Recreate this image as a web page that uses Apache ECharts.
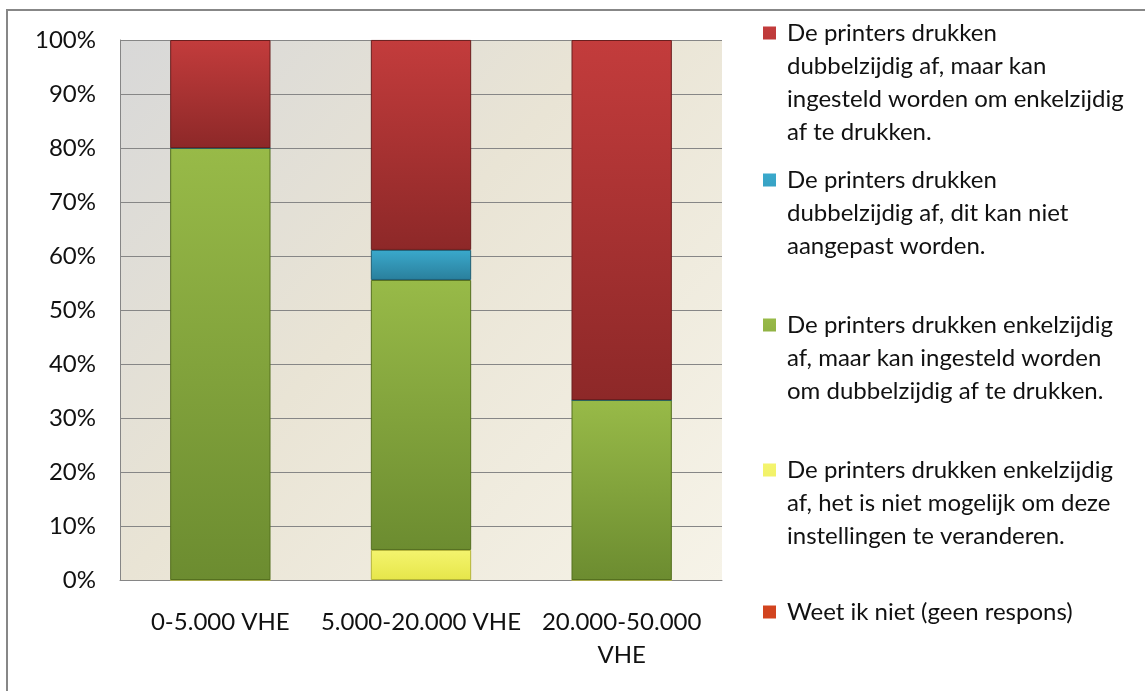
<!DOCTYPE html>
<html>
<head>
<meta charset="utf-8">
<script src="https://cdn.jsdelivr.net/npm/echarts@6/dist/echarts.min.js"></script>
<style>
  html, body { margin: 0; padding: 0; background: #fff; }
  #chart { width: 1145px; height: 691px; }
  .frame {
    position: absolute; left: 6px; top: 9px; width: 1200px; height: 800px;
    border-left: 2px solid #878787; border-top: 2px solid #878787;
    pointer-events: none;
  }
</style>
</head>
<body>
<div id="chart"></div>
<div class="frame"></div>
<script>
const categories = ['0-5.000 VHE', '5.000-20.000 VHE', '20.000-50.000 VHE']

// legend text, with line breaks as in the picture
const nameRedDouble = 'De printers drukken\ndubbelzijdig af, maar kan\ningesteld worden om enkelzijdig\naf te drukken.'
const nameBlueDouble = 'De printers drukken\ndubbelzijdig af, dit kan niet\naangepast worden.'
const nameGreenSingle = 'De printers drukken enkelzijdig\naf, maar kan ingesteld worden\nom dubbelzijdig af te drukken.'
const nameYellowSingle = 'De printers drukken enkelzijdig\naf, het is niet mogelijk om deze\ninstellingen te veranderen.'
const nameUnknown = 'Weet ik niet (geen respons)'

// percentages per category
const unknownValues = [0, 0, 0]
const yellowValues = [0, 5.56, 0]
const greenValues = [80, 50, 33.33]
const blueValues = [0, 5.56, 0]
const redValues = [20, 38.89, 66.67]

const font = 'Lato'
const lh = 33

function vgrad(top, bottom) {
  return new echarts.graphic.LinearGradient(0, 0, 0, 1, [
    { offset: 0, color: top },
    { offset: 1, color: bottom },
  ])
}

// one legend per entry; the icon is a tall path with the square at its top,
// so the square sits next to the first text line (text is centred on the icon)
function legendFor(name, lines, firstLineY) {
  const h = 13 + (lines - 1) * lh
  const icon = lines > 1
    ? 'path://M0,0L13,0L13,13L0,13Z M6,' + (h - 0.01) + 'L6.01,' + (h - 0.01) + 'L6.01,' + h + 'Z'
    : 'rect'
  return {
    data: [{ name: name, icon: icon }],
    left: 763,
    top: firstLineY - lh / 2,
    orient: 'vertical',
    padding: 0,
    itemWidth: 13,
    itemHeight: h,
    selectedMode: false,
    itemStyle: { borderWidth: 0 },
    textStyle: {
      fontFamily: font,
      fontSize: 24,
      color: '#111',
      lineHeight: lh,
      padding: [0, 0, 0, 6],
    },
  }
}

function barSeries(name, values, fill, border, legendColor) {
  return {
    name: name,
    type: 'bar',
    stack: 'total',
    barWidth: '50%',
    data: values,
    color: legendColor,
    itemStyle: {
      color: fill,
      borderColor: border,
      borderWidth: 1,
    },
  }
}

const chart = echarts.init(document.getElementById('chart'))
chart.setOption({
  animation: false,
  backgroundColor: '#fff',
  grid: {
    left: 120,
    top: 40,
    right: 423,
    bottom: 111,
    show: true,
    borderWidth: 0,
    backgroundColor: new echarts.graphic.LinearGradient(0, 0, 1, 1, [
      { offset: 0, color: '#d8d8d8' },
      { offset: 0.45, color: '#e9e4d5' },
      { offset: 1, color: '#f6f3e8' },
    ]),
  },
  legend: [
    legendFor(nameRedDouble, 4, 33),
    legendFor(nameBlueDouble, 3, 180),
    legendFor(nameGreenSingle, 3, 325),
    legendFor(nameYellowSingle, 3, 470),
    legendFor(nameUnknown, 1, 612),
  ],
  xAxis: {
    type: 'category',
    data: categories,
    axisLine: { lineStyle: { color: '#868686', width: 1 } },
    axisTick: { show: false },
    axisLabel: {
      interval: 0,
      margin: 26,
      fontFamily: font,
      fontSize: 24,
      color: '#111',
      lineHeight: lh,
      formatter: function (v) {
        return v.length > 16 ? v.replace(/ (?=\S+$)/, '\n') : v
      },
    },
  },
  yAxis: {
    type: 'value',
    min: 0,
    max: 100,
    interval: 10,
    axisLine: { show: true, lineStyle: { color: '#868686', width: 1 } },
    axisTick: { show: false },
    splitLine: { lineStyle: { color: '#868686', width: 1 } },
    axisLabel: {
      margin: 24,
      fontFamily: font,
      fontSize: 24,
      color: '#111',
      formatter: '{value}%',
    },
  },
  series: [
    Object.assign(barSeries(nameUnknown, unknownValues, vgrad('#e0552c', '#b8361a'), '#8a2a14', '#d2441f'), {
      itemStyle: { color: '#d2441f', borderWidth: 0 },
    }),
    barSeries(nameYellowSingle, yellowValues, vgrad('#f4f46e', '#e6e64a'), '#b5b53a', '#e8e85a'),
    barSeries(nameGreenSingle, greenValues, vgrad('#98ba48', '#6c8c30'), '#55701f', '#7f9f3a'),
    barSeries(nameBlueDouble, blueValues, vgrad('#3aa9cc', '#2a7f9c'), '#1f5f75', '#2f93b4'),
    barSeries(nameRedDouble, redValues, vgrad('#c33c3c', '#8d2828'), '#6a1e1e', '#a83030'),
  ],
})
</script>
</body>
</html>
